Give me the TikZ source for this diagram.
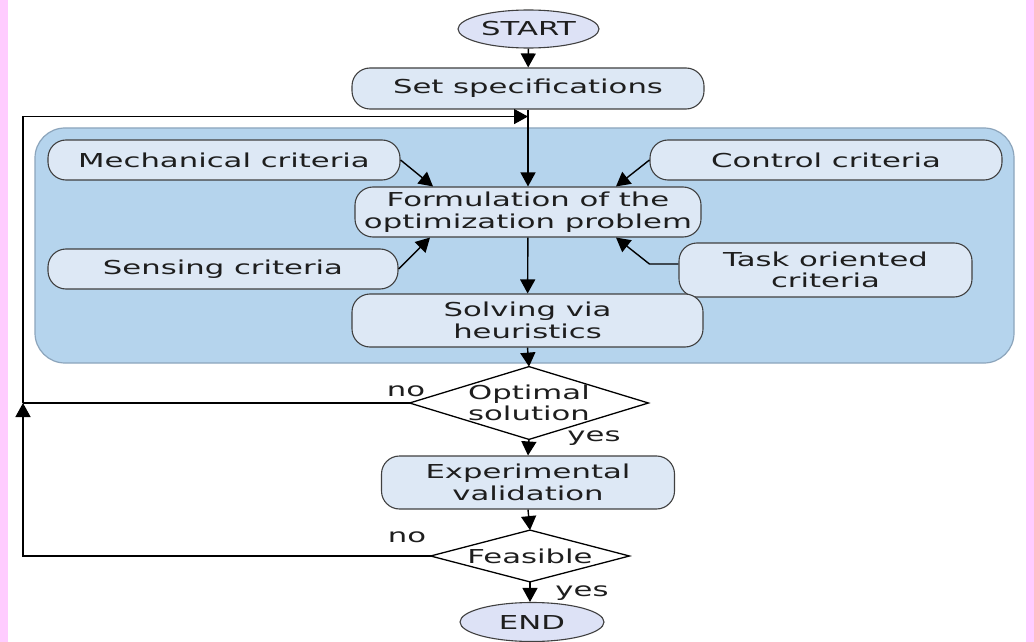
\documentclass[tikz,border=0pt]{standalone}
\usepackage{fontspec}
\setmainfont{DejaVu Sans}[FakeStretch=1.6]
\usetikzlibrary{shapes.geometric,arrows.meta,calc}
\definecolor{pinkside}{RGB}{255,204,255}
\definecolor{regionblue}{RGB}{181,212,237}
\definecolor{regionedge}{RGB}{140,165,188}
\definecolor{nodefill}{RGB}{221,232,245}
\definecolor{ovalfill}{RGB}{221,226,246}
\definecolor{txt}{RGB}{30,30,30}
\begin{document}
\begin{tikzpicture}[x=0.5pt,y=-0.5pt,
  font=\fontsize{9.6}{10.8}\selectfont,
  box/.style={draw=black!75, fill=nodefill, rounded corners=9pt, align=center,
    inner sep=0pt, text=txt, line width=0.55pt},
  oval/.style={ellipse, draw=black!75, fill=ovalfill, inner sep=0pt, text=txt, line width=0.55pt},
  dec/.style={rectangle, inner sep=0pt, align=center, text=txt},
  decline/.style={draw=black, fill=white, line width=0.65pt},
  arr/.style={-{Triangle[length=7pt,width=7.5pt]}, line width=0.7pt},
  ln/.style={line width=0.7pt},
  lbl/.style={text=txt, inner sep=0pt}]
\useasboundingbox (0,0) rectangle (1034,642);
\fill[white] (0,0) rectangle (1034,642);
\fill[pinkside] (0,0) rectangle (8,642);
\fill[pinkside] (1026,0) rectangle (1034,642);
\draw[fill=regionblue, draw=regionedge, line width=0.6pt, rounded corners=15pt] (35,128) rectangle (1014,363);

\node[oval, minimum width=70.5pt, minimum height=19pt] (start) at (528.5,29) {START};
\node[box, minimum width=176pt, minimum height=20.5pt] (spec) at (528,88.5) {Set specifications};
\node[box, minimum width=176pt, minimum height=20pt] (mech) at (224,160) {Mechanical criteria};
\node[box, minimum width=176pt, minimum height=20pt] (ctrl) at (826,160) {Control criteria};
\node[box, minimum width=173pt, minimum height=25pt] (form) at (528,212) {Formulation of the\\optimization problem};
\node[box, minimum width=175pt, minimum height=20pt] (sens) at (223,269) {Sensing criteria};
\node[box, minimum width=146.5pt, minimum height=27pt] (task) at (825.5,270) {Task oriented\\criteria};
\node[box, minimum width=175.5pt, minimum height=26.5pt] (solv) at (527.5,320.5) {Solving via\\heuristics};
\node[dec, minimum width=119pt, minimum height=36pt] (opt) at (529,403) {};
\node[box, minimum width=146.5pt, minimum height=26.5pt] (exp) at (528,482.5) {Experimental\\validation};
\node[dec, minimum width=99pt, minimum height=25.5pt] (feas) at (530,556) {};
\node[oval, minimum width=72pt, minimum height=19.5pt] (end) at (532,622) {END};

\draw[decline] (opt.north) -- (opt.east) -- (opt.south) -- (opt.west) -- cycle;
\draw[decline] (feas.north) -- (feas.east) -- (feas.south) -- (feas.west) -- cycle;
\node[dec] (optt) at (opt.center) {Optimal\\solution};
\node[dec] (feast) at (feas.center) {Feasible};

\node[lbl] (no1) at (406,391) {no};
\node[lbl] (yes1) at (594,438) {yes};
\node[lbl] (no2) at (407,537) {no};
\node[lbl] (yes2) at (582,593) {yes};

\coordinate (lx) at (23,0);
\coordinate (top) at ($(spec.south)+(0,7)$);
\coordinate (mtip) at ($(form.north)+(-95,0)$);
\coordinate (ctip) at ($(form.north)+(88,0)$);
\coordinate (stip) at ($(form.south)+(-98,0)$);
\coordinate (ttip) at ($(form.south)+(88,0)$);
\coordinate (tstart) at ($(task.west)+(0,-6)$);
\coordinate (tkink) at ($(tstart)+(-29,0)$);

\draw[arr] (start) -- (spec);
\draw[arr] (spec) -- (form);
\draw[arr] (mech.east) -- (mtip);
\draw[arr] (ctrl.west) -- (ctip);
\draw[arr] (sens.east) -- (stip);
\draw[arr] (tstart) -- (tkink) -- (ttip);
\draw[arr] (form) -- (solv);
\draw[arr] (solv.south) -- (opt.north);
\draw[arr] (opt.south) -- (exp.north);
\draw[arr] (exp.south) -- (feas.north);
\draw[arr] (feas.south) -- (feas.south |- end.north);

\draw[ln] (opt.west) -- (opt.west -| lx);
\draw[arr] (feas.west) -- (feas.west -| lx) -- (opt.west -| lx);
\draw[arr] (opt.west -| lx) -- (top -| lx) -- (top);
\end{tikzpicture}
\end{document}
